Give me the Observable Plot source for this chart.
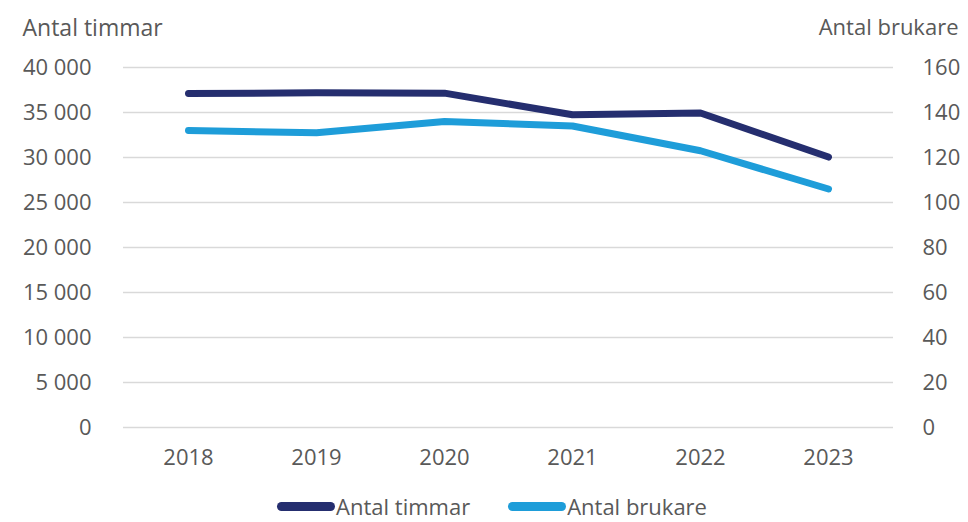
<!DOCTYPE html>
<html>
<head>
<meta charset="utf-8">
<script src="https://cdn.jsdelivr.net/npm/d3@7"></script>
<script src="https://cdn.jsdelivr.net/npm/@observablehq/plot@0.6"></script>
<style>
  html, body { margin: 0; padding: 0; background: #fff; }
  body { width: 968px; font-family: "Open Sans", sans-serif; }
  #chart svg { display: block; }
  #legend { display: flex; justify-content: center; align-items: center; padding-top: 14px; padding-left: 16px; color: #595959; font-size: 22px; line-height: 24px; }
  .item { display: flex; align-items: center; margin: 0 19px; }
  .sw { width: 58px; height: 9px; border-radius: 5px; margin-right: 1px; }
</style>
</head>
<body>
<div id="chart"></div>
<div id="legend"></div>
<script>
const years = ["2018", "2019", "2020", "2021", "2022", "2023"];
const timmar = [37100, 37200, 37150, 34750, 34950, 30050];
const brukare = [132, 131, 136, 134, 123, 106];
const leftTicks = [0, 5000, 10000, 15000, 20000, 25000, 30000, 35000, 40000];
const rightTicks = [0, 20, 40, 60, 80, 100, 120, 140, 160];
const seriesNames = ["Antal timmar", "Antal brukare"];
const colors = ["#252E6F", "#1E9DD9"];

const ratio = 40000 / 160;
const fmt = d3.formatLocale({decimal: ",", thousands: " ", grouping: [3]}).format(",d");

const data = [];
years.forEach((y, i) => {
  data.push({year: y, series: seriesNames[0], value: timmar[i]});
});
years.forEach((y, i) => {
  data.push({year: y, series: seriesNames[1], value: brukare[i] * ratio, raw: brukare[i]});
});

const txt = "#595959";
const chart = Plot.plot({
  width: 968,
  height: 480,
  marginTop: 67,
  marginBottom: 53,
  marginLeft: 123,
  marginRight: 75,
  style: {fontFamily: "'Open Sans', sans-serif", color: txt, background: "#fff"},
  x: {type: "point", domain: years, padding: 0.5},
  y: {domain: [0, 40000]},
  color: {domain: seriesNames, range: colors},
  marks: [
    Plot.gridY(leftTicks, {stroke: "#d9d9d9", strokeOpacity: 1, strokeWidth: 1.5}),
    Plot.axisY(leftTicks, {anchor: "left", tickSize: 0, tickPadding: 32, tickFormat: fmt, fontSize: 22, fill: txt, label: null}),
    Plot.text(rightTicks, {y: d => d * ratio, frameAnchor: "right", dx: 29, textAnchor: "start", text: d => String(d), fontSize: 22, fill: txt}),
    Plot.axisX({anchor: "bottom", tickSize: 0, tickPadding: 22, fontSize: 22, fill: txt, label: null}),
    Plot.line(data, {x: "year", y: "value", z: "series", stroke: "series", strokeWidth: 7, strokeLinecap: "round", strokeLinejoin: "round"}),
    Plot.text([seriesNames[0]], {frameAnchor: "top-left", dx: -101, dy: -48, text: d => d, fontSize: 23, fill: txt, textAnchor: "start"}),
    Plot.text([seriesNames[1]], {frameAnchor: "top-right", dx: 65, dy: -48, text: d => d, fontSize: 22, fill: txt, textAnchor: "end"})
  ]
});
document.getElementById("chart").appendChild(chart);

const legend = document.getElementById("legend");
seriesNames.forEach((name, i) => {
  const item = document.createElement("div");
  item.className = "item";
  const sw = document.createElement("span");
  sw.className = "sw";
  sw.style.background = colors[i];
  const label = document.createElement("span");
  label.textContent = name;
  item.appendChild(sw);
  item.appendChild(label);
  legend.appendChild(item);
});
</script>
</body>
</html>
